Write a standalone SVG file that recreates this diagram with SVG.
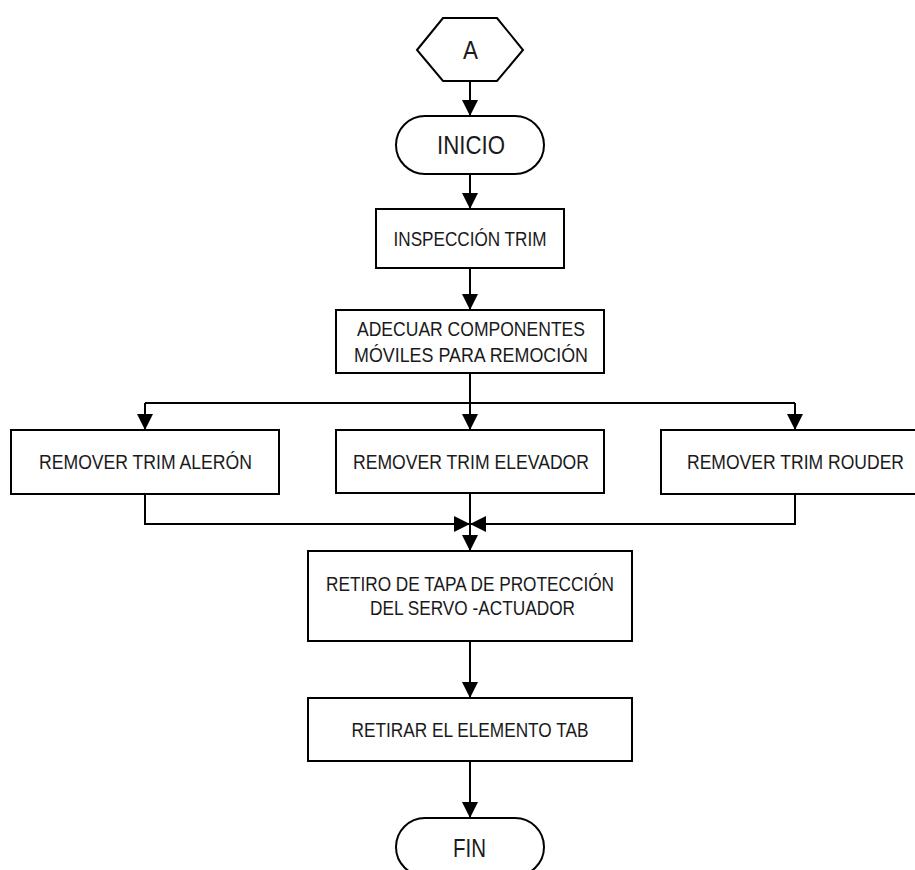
<svg xmlns="http://www.w3.org/2000/svg" width="915" height="870" viewBox="0 0 915 870">
<style>
.shape{fill:#fff;stroke:#000;stroke-width:2}
.line{fill:none;stroke:#000;stroke-width:2}
.t{font-family:"Liberation Sans Narrow","Liberation Sans",Arial,sans-serif;font-size:21px;fill:#1a1a1a;text-anchor:middle}
.big{font-size:25px}
</style>
<defs>
<marker id="arr" markerUnits="userSpaceOnUse" markerWidth="16" markerHeight="18" viewBox="0 0 16 18" refX="16" refY="8" orient="auto">
<path d="M0,0 L16,8 L0,16 Z" fill="#000"/>
</marker>
</defs>
<rect width="915" height="870" fill="#fff"/>
<g id="connectors">
<line class="line" x1="470" y1="81" x2="470" y2="116" marker-end="url(#arr)"/>
<line class="line" x1="470" y1="174" x2="470" y2="209" marker-end="url(#arr)"/>
<line class="line" x1="470" y1="268" x2="470" y2="310" marker-end="url(#arr)"/>
<line class="line" x1="470" y1="373" x2="470" y2="403"/>
<line class="line" x1="145" y1="403" x2="795" y2="403"/>
<line class="line" x1="145" y1="403" x2="145" y2="430" marker-end="url(#arr)"/>
<line class="line" x1="470" y1="403" x2="470" y2="430" marker-end="url(#arr)"/>
<line class="line" x1="795" y1="403" x2="795" y2="430" marker-end="url(#arr)"/>
<polyline class="line" points="145,494 145,524 470,524" marker-end="url(#arr)"/>
<polyline class="line" points="795,494 795,524 470,524" marker-end="url(#arr)"/>
<line class="line" x1="470" y1="493" x2="470" y2="551" marker-end="url(#arr)"/>
<line class="line" x1="470" y1="641" x2="470" y2="698" marker-end="url(#arr)"/>
<line class="line" x1="470" y1="761" x2="470" y2="818" marker-end="url(#arr)"/>
</g>
<g id="node-a">
<polygon class="shape" points="417,50 443,18 497,18 523,50 497,81 443,81"/>
<text class="t big" x="470.5" y="59" textLength="15" lengthAdjust="spacingAndGlyphs">A</text>
</g>
<g id="node-inicio">
<rect class="shape" x="396" y="116" width="148" height="58" rx="29" ry="29"/>
<text class="t big" x="471" y="154" textLength="68" lengthAdjust="spacingAndGlyphs">INICIO</text>
</g>
<g id="node-inspeccion">
<rect class="shape" x="376" y="209" width="188" height="59"/>
<text class="t" x="470" y="246" textLength="153" lengthAdjust="spacingAndGlyphs">INSPECCIÓN TRIM</text>
</g>
<g id="node-adecuar">
<rect class="shape" x="336" y="310" width="268" height="63"/>
<text class="t" x="471" y="336" textLength="228" lengthAdjust="spacingAndGlyphs">ADECUAR COMPONENTES</text>
<text class="t" x="471" y="362" textLength="234" lengthAdjust="spacingAndGlyphs">MÓVILES PARA REMOCIÓN</text>
</g>
<g id="node-aleron">
<rect class="shape" x="11" y="430" width="268" height="64"/>
<text class="t" x="145.5" y="469" textLength="213" lengthAdjust="spacingAndGlyphs">REMOVER TRIM ALERÓN</text>
</g>
<g id="node-elevador">
<rect class="shape" x="336" y="430" width="268" height="63"/>
<text class="t" x="471" y="469" textLength="236" lengthAdjust="spacingAndGlyphs">REMOVER TRIM ELEVADOR</text>
</g>
<g id="node-rouder">
<rect class="shape" x="661" y="430" width="268" height="64"/>
<text class="t" x="795.5" y="469" textLength="217" lengthAdjust="spacingAndGlyphs">REMOVER TRIM ROUDER</text>
</g>
<g id="node-retiro">
<rect class="shape" x="308" y="551" width="324" height="90"/>
<text class="t" x="470" y="591" textLength="288" lengthAdjust="spacingAndGlyphs">RETIRO DE TAPA DE PROTECCIÓN</text>
<text class="t" x="472.5" y="615" textLength="205" lengthAdjust="spacingAndGlyphs">DEL SERVO -ACTUADOR</text>
</g>
<g id="node-retirar">
<rect class="shape" x="308" y="698" width="324" height="63"/>
<text class="t" x="470" y="737" textLength="237" lengthAdjust="spacingAndGlyphs">RETIRAR EL ELEMENTO TAB</text>
</g>
<g id="node-fin">
<rect class="shape" x="396" y="818" width="148" height="58" rx="29" ry="29"/>
<text class="t big" x="469.5" y="857" textLength="33" lengthAdjust="spacingAndGlyphs">FIN</text>
</g>
</svg>
